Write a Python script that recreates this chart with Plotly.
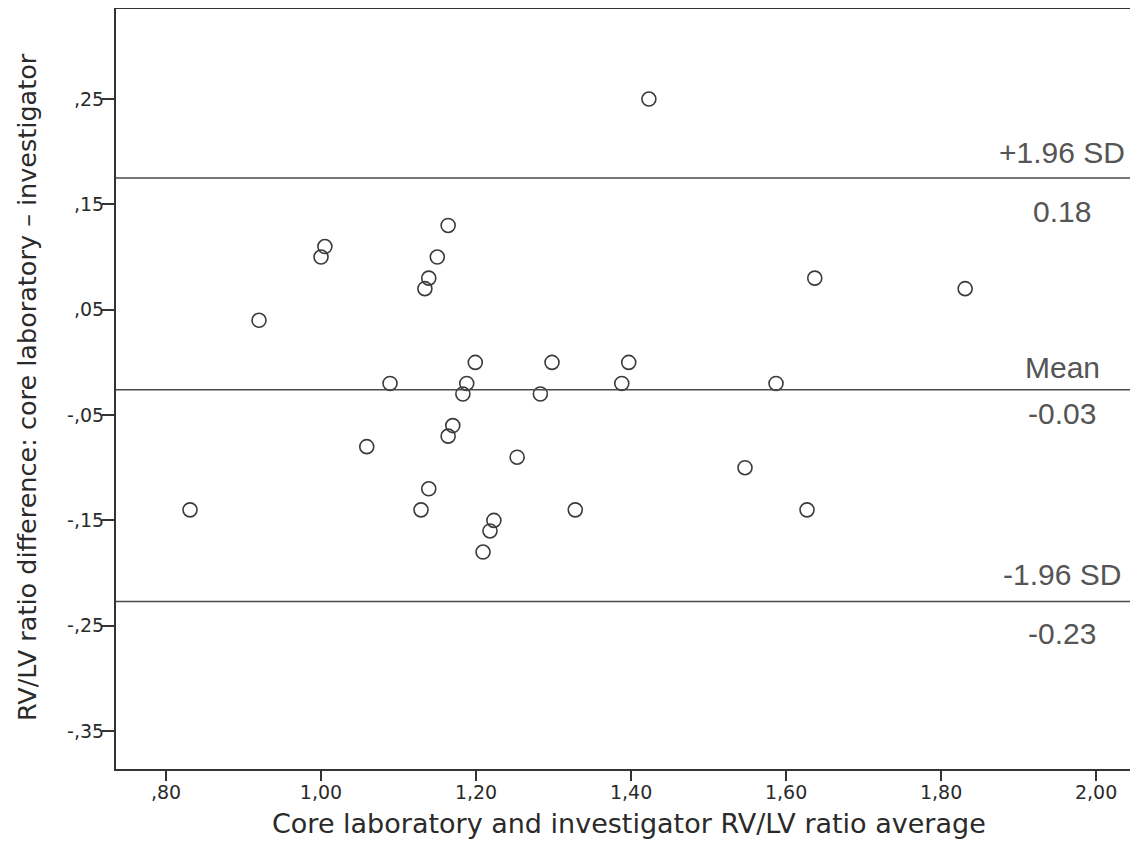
import plotly.graph_objects as go

# Data (Bland-Altman plot)
avg_ratio = [0.831, 0.920, 1.000, 1.005, 1.059, 1.089, 1.129, 1.134, 1.139, 1.139,
             1.150, 1.164, 1.164, 1.170, 1.183, 1.188, 1.199, 1.209, 1.218, 1.223,
             1.253, 1.283, 1.298, 1.328, 1.388, 1.397, 1.423, 1.547, 1.587, 1.627,
             1.637, 1.831]
diff_ratio = [-0.140, 0.040, 0.100, 0.110, -0.080, -0.020, -0.140, 0.070, 0.080, -0.120,
              0.100, 0.130, -0.070, -0.060, -0.030, -0.020, 0.000, -0.180, -0.160, -0.150,
              -0.090, -0.030, 0.000, -0.140, -0.020, 0.000, 0.250, -0.100, -0.020, -0.140,
              0.080, 0.070]

upper_loa = 0.175
mean_diff = -0.026
lower_loa = -0.227

x_tickvals = [0.8, 1.0, 1.2, 1.4, 1.6, 1.8, 2.0]
x_ticktext = [",80", "1,00", "1,20", "1,40", "1,60", "1,80", "2,00"]
y_tickvals = [0.25, 0.15, 0.05, -0.05, -0.15, -0.25, -0.35]
y_ticktext = [",25", ",15", ",05", "-,05", "-,15", "-,25", "-,35"]

x_title = "Core laboratory and investigator RV/LV ratio average"
y_title = "RV/LV ratio difference: core laboratory \u2013 investigator"

fig = go.Figure()

fig.add_trace(go.Scatter(
    x=avg_ratio, y=diff_ratio, mode="markers",
    marker=dict(symbol="circle-open", size=14, color="#3a3a3a", line=dict(width=1.6)),
    showlegend=False, hoverinfo="x+y",
))

for val in (upper_loa, mean_diff, lower_loa):
    fig.add_shape(type="line", xref="paper", x0=0, x1=1, yref="y", y0=val, y1=val,
                  line=dict(color="#4a4a4a", width=1.6))

label_font = dict(family="Liberation Sans, Arial, sans-serif", size=30, color="#555555")
label_x = (1062 - 116) / (1138 - 116)
labels = [
    ("+1.96 SD", upper_loa, 26),
    ("0.18", upper_loa, -33),
    ("Mean", mean_diff, 22),
    ("-0.03", mean_diff, -24),
    ("-1.96 SD", lower_loa, 27),
    ("-0.23", lower_loa, -32),
]
for txt, val, shift in labels:
    fig.add_annotation(text=txt, xref="paper", x=label_x, yref="y", y=val,
                       xanchor="center", yanchor="middle", yshift=shift,
                       showarrow=False, font=label_font)

tick_font = dict(family="DejaVu Sans, sans-serif", size=19, color="#2a2a2a")
x_title_font = dict(family="DejaVu Sans, sans-serif", size=27, color="#2a2a2a")
y_title_font = dict(family="DejaVu Sans, sans-serif", size=25.5, color="#2a2a2a")

# axis titles placed as paper-anchored text so they sit where the reference has them
fig.add_annotation(text=x_title, xref="paper", yref="paper", x=0.502, y=-0.0711,
                   xanchor="center", yanchor="middle", showarrow=False,
                   font=x_title_font)
fig.add_annotation(text=y_title, xref="paper", yref="paper", x=-0.0871, y=0.5026,
                   xanchor="center", yanchor="middle", textangle=-90, showarrow=False,
                   font=y_title_font)

fig.update_xaxes(
    range=[0.7355, 2.054], tickvals=x_tickvals, ticktext=x_ticktext,
    ticks="outside", ticklen=10, tickwidth=2, tickcolor="#333333",
    ticklabelstandoff=-5,
    showline=True, linecolor="#333333", linewidth=2, mirror=True,
    showgrid=False, zeroline=False, tickfont=tick_font, automargin=False,
)
fig.update_yaxes(
    range=[-0.386, 0.3355], tickvals=y_tickvals, ticktext=y_ticktext,
    ticks="outside", ticklen=12, tickwidth=2, tickcolor="#333333",
    ticklabelstandoff=-6,
    showline=True, linecolor="#333333", linewidth=2, mirror=False,
    showgrid=False, zeroline=False, tickfont=tick_font, automargin=False,
)

# page body has an 8px margin, so the figure is sized/margined to land the
# plot area at the same place as in the reference image
fig.update_layout(
    width=1130, height=834,
    margin=dict(l=108, r=0, t=1, b=73, autoexpand=False),
    paper_bgcolor="white", plot_bgcolor="white",
)

fig.write_html("out.html")
